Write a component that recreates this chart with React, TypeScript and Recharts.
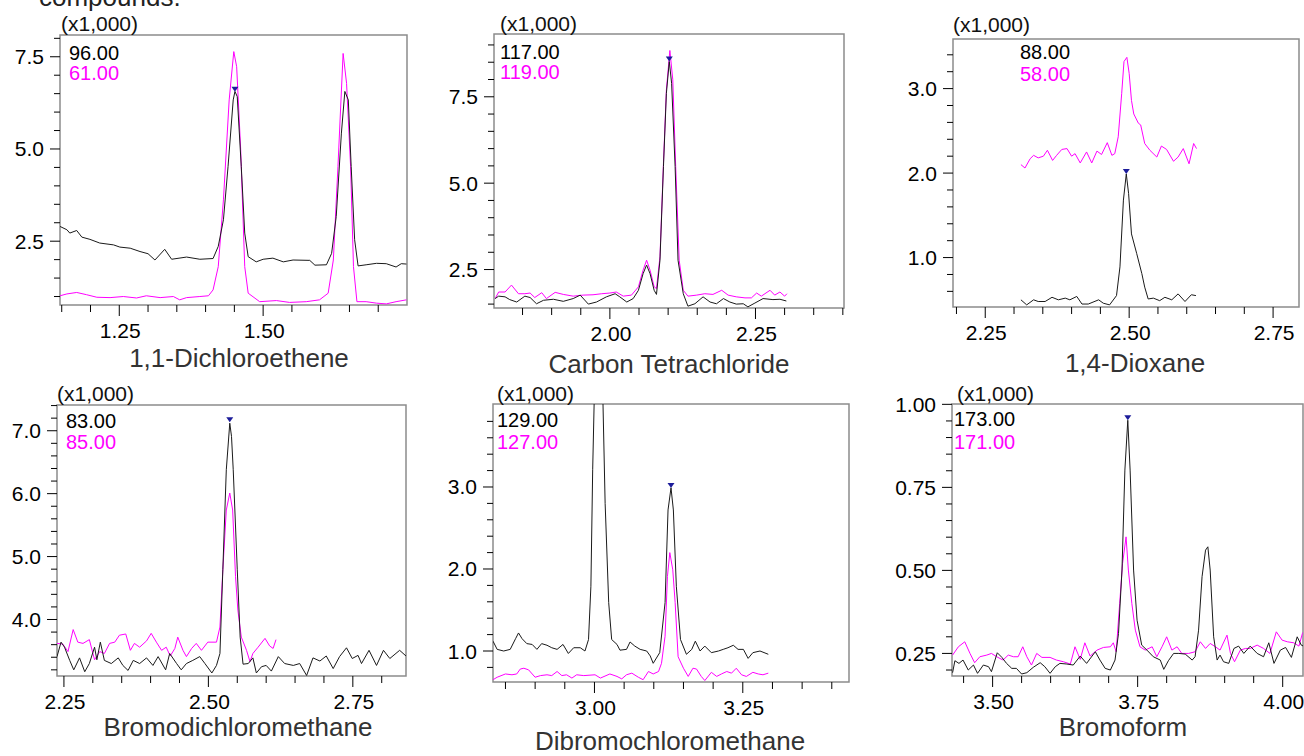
import React from 'react';
import { LineChart, Line, XAxis, YAxis, ReferenceArea, ReferenceDot } from 'recharts';

type Pt = [number, number];

const FONT = '"Liberation Sans", Arial, sans-serif';
const BLACK = '#1a1a1a';
const MAGENTA = '#ff00ff';

// ---- 1,1-Dichloroethene (96 / 61)
const dceTicksX = [1.15, 1.2, 1.25, 1.3, 1.35, 1.4, 1.45, 1.5, 1.55, 1.6, 1.65, 1.7];
const dceMajorX = [1.25, 1.5];
const dceTicksY = [1, 1.5, 2, 2.5, 3, 3.5, 4, 4.5, 5, 5.5, 6, 6.5, 7, 7.5, 8];
const dceMajorY = [2.5, 5, 7.5];
const dce96: Pt[] = [
  [1.147, 2.9], [1.159, 2.81], [1.164, 2.72], [1.176, 2.79], [1.185, 2.61], [1.199, 2.55], [1.216, 2.45],
  [1.24, 2.4], [1.251, 2.34], [1.269, 2.31], [1.286, 2.22], [1.3, 2.16], [1.312, 1.99], [1.329, 2.28],
  [1.341, 2.01], [1.367, 2.07], [1.39, 2.01], [1.413, 2.03], [1.422, 2.36], [1.431, 3.08], [1.439, 4.52],
  [1.448, 6.33], [1.451, 6.56], [1.455, 6.42], [1.462, 4.52], [1.468, 2.72], [1.474, 2.08], [1.488, 1.94],
  [1.5, 2.01], [1.517, 2.04], [1.535, 1.94], [1.552, 1.99], [1.581, 1.98], [1.59, 1.85], [1.61, 1.86],
  [1.619, 2.17], [1.627, 3.17], [1.636, 5.43], [1.642, 6.56], [1.648, 6.33], [1.653, 4.52], [1.659, 2.54],
  [1.665, 1.83], [1.679, 1.86], [1.697, 1.9], [1.714, 1.89], [1.731, 1.8], [1.74, 1.89], [1.749, 1.88],
];
const dce61: Pt[] = [
  [1.147, 1.02], [1.159, 1.07], [1.176, 1.11], [1.193, 1.05], [1.211, 0.98], [1.234, 0.97], [1.257, 1.0],
  [1.28, 0.96], [1.297, 1.02], [1.321, 0.97], [1.344, 1.0], [1.355, 0.91], [1.367, 0.97], [1.39, 1.0],
  [1.405, 1.02], [1.413, 1.18], [1.422, 1.81], [1.431, 3.62], [1.441, 6.33], [1.449, 7.64], [1.454, 7.23],
  [1.461, 4.98], [1.468, 1.81], [1.474, 1.09], [1.494, 0.86], [1.523, 0.89], [1.546, 0.84], [1.575, 0.86],
  [1.598, 0.91], [1.613, 1.09], [1.622, 1.99], [1.63, 4.52], [1.639, 7.59], [1.645, 6.78], [1.652, 4.52],
  [1.657, 1.81], [1.663, 0.86], [1.679, 0.86], [1.697, 0.82], [1.714, 0.8], [1.731, 0.86], [1.749, 0.91],
];

// ---- Carbon Tetrachloride (117 / 119)
const cclTicksX = [1.85, 1.9, 1.95, 2.0, 2.05, 2.1, 2.15, 2.2, 2.25, 2.3, 2.35, 2.4];
const cclMajorX = [2.0, 2.25];
const cclTicksY = [1.5, 2, 2.5, 3, 3.5, 4, 4.5, 5, 5.5, 6, 6.5, 7, 7.5, 8, 8.5, 9];
const cclMajorY = [2.5, 5, 7.5];
const ccl117: Pt[] = [
  [1.803, 1.66], [1.809, 1.73], [1.82, 1.71], [1.828, 1.63], [1.84, 1.56], [1.854, 1.73], [1.863, 1.69],
  [1.874, 1.51], [1.886, 1.61], [1.903, 1.64], [1.92, 1.58], [1.937, 1.66], [1.949, 1.76], [1.963, 1.5],
  [1.977, 1.56], [1.994, 1.71], [2.009, 1.8], [2.017, 1.71], [2.029, 1.56], [2.04, 1.66], [2.049, 1.9],
  [2.057, 2.38], [2.063, 2.63], [2.069, 2.38], [2.076, 1.9], [2.08, 1.78], [2.086, 2.77], [2.092, 5.48],
  [2.097, 7.6], [2.102, 8.52], [2.106, 7.89], [2.112, 5.48], [2.117, 2.77], [2.126, 1.8], [2.134, 1.44],
  [2.146, 1.51], [2.16, 1.71], [2.172, 1.56], [2.183, 1.51], [2.195, 1.66], [2.206, 1.56], [2.217, 1.5],
  [2.229, 1.51], [2.237, 1.42], [2.249, 1.53], [2.263, 1.66], [2.28, 1.63], [2.292, 1.64], [2.303, 1.59],
];
const ccl119: Pt[] = [
  [1.803, 1.66], [1.809, 1.85], [1.82, 1.85], [1.831, 2.05], [1.843, 1.8], [1.854, 1.8], [1.863, 1.82],
  [1.871, 1.69], [1.883, 1.83], [1.891, 1.66], [1.906, 1.84], [1.92, 1.78], [1.937, 1.73], [1.954, 1.76],
  [1.971, 1.77], [1.986, 1.8], [2.0, 1.82], [2.011, 1.85], [2.023, 1.73], [2.037, 1.76], [2.049, 2.0],
  [2.057, 2.48], [2.063, 2.77], [2.069, 2.48], [2.076, 2.0], [2.08, 1.95], [2.086, 2.87], [2.092, 5.57],
  [2.097, 7.7], [2.103, 8.84], [2.108, 7.99], [2.113, 5.48], [2.119, 2.77], [2.126, 1.9], [2.134, 1.73],
  [2.149, 1.76], [2.163, 1.8], [2.177, 1.78], [2.192, 1.9], [2.203, 1.76], [2.217, 1.71], [2.232, 1.68],
  [2.243, 1.68], [2.252, 1.82], [2.26, 1.73], [2.275, 1.9], [2.283, 1.76], [2.292, 1.85], [2.3, 1.73],
  [2.304, 1.8],
];

// ---- 1,4-Dioxane (88 / 58)
const dioTicksX = [2.2, 2.25, 2.3, 2.35, 2.4, 2.45, 2.5, 2.55, 2.6, 2.65, 2.7, 2.75];
const dioMajorX = [2.25, 2.5, 2.75];
const dioTicksY = [0.6, 0.8, 1.0, 1.2, 1.4, 1.6, 1.8, 2.0, 2.2, 2.4, 2.6, 2.8, 3.0, 3.2, 3.4];
const dioMajorY = [1, 2, 3];
const dio88: Pt[] = [
  [2.312, 0.5], [2.322, 0.44], [2.334, 0.5], [2.342, 0.48], [2.354, 0.48], [2.366, 0.53], [2.377, 0.5],
  [2.389, 0.52], [2.397, 0.5], [2.409, 0.54], [2.418, 0.45], [2.429, 0.45], [2.447, 0.5], [2.455, 0.46],
  [2.466, 0.44], [2.478, 0.55], [2.484, 0.89], [2.49, 1.68], [2.495, 1.99], [2.499, 1.76], [2.504, 1.28],
  [2.513, 1.05], [2.522, 0.81], [2.527, 0.65], [2.533, 0.51], [2.542, 0.52], [2.553, 0.49], [2.562, 0.53],
  [2.574, 0.5], [2.585, 0.57], [2.597, 0.48], [2.608, 0.56], [2.616, 0.55],
];
const dio58: Pt[] = [
  [2.312, 2.1], [2.319, 2.06], [2.328, 2.17], [2.334, 2.21], [2.342, 2.18], [2.351, 2.2], [2.358, 2.27],
  [2.367, 2.15], [2.374, 2.21], [2.383, 2.28], [2.392, 2.29], [2.4, 2.2], [2.406, 2.23], [2.415, 2.12],
  [2.426, 2.25], [2.435, 2.12], [2.444, 2.26], [2.452, 2.22], [2.462, 2.36], [2.47, 2.21], [2.475, 2.23],
  [2.481, 2.43], [2.487, 2.94], [2.491, 3.32], [2.496, 3.37], [2.5, 3.18], [2.504, 2.86], [2.508, 2.7],
  [2.516, 2.59], [2.52, 2.57], [2.527, 2.35], [2.536, 2.27], [2.548, 2.19], [2.556, 2.32], [2.565, 2.28],
  [2.577, 2.14], [2.585, 2.19], [2.594, 2.29], [2.604, 2.11], [2.612, 2.35], [2.617, 2.29],
];

// ---- Bromodichloromethane (83 / 85)
const bdcTicksX = [2.25, 2.3, 2.35, 2.4, 2.45, 2.5, 2.55, 2.6, 2.65, 2.7, 2.75, 2.8];
const bdcMajorX = [2.25, 2.5, 2.75];
const bdcTicksY = [
  3.2, 3.4, 3.6, 3.8, 4.0, 4.2, 4.4, 4.6, 4.8, 5.0, 5.2, 5.4, 5.6, 5.8, 6.0, 6.2, 6.4, 6.6, 6.8, 7.0, 7.2, 7.4,
];
const bdcMajorY = [4, 5, 6, 7];
const bdc83: Pt[] = [
  [2.238, 3.41], [2.245, 3.64], [2.251, 3.56], [2.26, 3.35], [2.267, 3.2], [2.277, 3.39], [2.286, 3.17],
  [2.294, 3.3], [2.303, 3.56], [2.307, 3.36], [2.313, 3.64], [2.32, 3.35], [2.332, 3.3], [2.344, 3.39],
  [2.352, 3.27], [2.361, 3.19], [2.37, 3.35], [2.381, 3.3], [2.393, 3.39], [2.404, 3.27], [2.413, 3.41],
  [2.426, 3.2], [2.433, 3.46], [2.445, 3.3], [2.453, 3.2], [2.462, 3.3], [2.473, 3.35], [2.485, 3.41],
  [2.494, 3.3], [2.506, 3.15], [2.514, 3.27], [2.52, 3.46], [2.525, 4.79], [2.531, 6.38], [2.537, 7.12],
  [2.54, 6.91], [2.543, 6.38], [2.55, 4.79], [2.555, 3.72], [2.56, 3.29], [2.569, 3.3], [2.577, 3.39],
  [2.583, 3.15], [2.592, 3.25], [2.6, 3.27], [2.609, 3.18], [2.621, 3.41], [2.632, 3.3], [2.647, 3.27],
  [2.658, 3.3], [2.67, 3.11], [2.681, 3.39], [2.693, 3.34], [2.704, 3.42], [2.716, 3.22], [2.727, 3.41],
  [2.739, 3.55], [2.749, 3.38], [2.759, 3.43], [2.765, 3.3], [2.778, 3.51], [2.791, 3.27], [2.803, 3.51],
  [2.814, 3.38], [2.831, 3.51], [2.842, 3.42],
];
const bdc85: Pt[] = [
  [2.238, 3.62], [2.248, 3.61], [2.257, 3.49], [2.266, 3.84], [2.274, 3.64], [2.283, 3.62], [2.294, 3.68],
  [2.303, 3.36], [2.312, 3.49], [2.32, 3.46], [2.329, 3.62], [2.338, 3.64], [2.346, 3.75], [2.357, 3.77],
  [2.365, 3.51], [2.372, 3.62], [2.381, 3.56], [2.393, 3.66], [2.401, 3.78], [2.41, 3.64], [2.419, 3.51],
  [2.427, 3.56], [2.434, 3.42], [2.442, 3.54], [2.447, 3.72], [2.456, 3.51], [2.462, 3.41], [2.471, 3.54],
  [2.479, 3.62], [2.488, 3.51], [2.499, 3.64], [2.514, 3.64], [2.52, 3.88], [2.525, 4.79], [2.531, 5.74],
  [2.537, 6.01], [2.542, 5.74], [2.547, 4.68], [2.551, 4.15], [2.557, 3.72], [2.566, 3.51], [2.572, 3.33],
  [2.577, 3.46], [2.586, 3.56], [2.598, 3.7], [2.606, 3.58], [2.612, 3.54], [2.617, 3.68],
];

// ---- Dibromochloromethane (129 / 127)
const dbcTicksX = [2.85, 2.9, 2.95, 3.0, 3.05, 3.1, 3.15, 3.2, 3.25, 3.3, 3.35, 3.4];
const dbcMajorX = [3.0, 3.25];
const dbcTicksY = [0.8, 1.0, 1.2, 1.4, 1.6, 1.8, 2.0, 2.2, 2.4, 2.6, 2.8, 3.0, 3.2, 3.4, 3.6, 3.8];
const dbcMajorY = [1, 2, 3];
const dbc129: Pt[] = [
  [2.829, 1.12], [2.836, 1.02], [2.847, 1.0], [2.858, 1.02], [2.867, 1.15], [2.872, 1.22], [2.878, 1.15],
  [2.886, 1.09], [2.895, 1.08], [2.903, 1.02], [2.911, 1.09], [2.92, 1.07], [2.928, 1.04], [2.937, 1.02],
  [2.947, 1.08], [2.956, 0.97], [2.965, 1.04], [2.976, 1.04], [2.984, 1.0], [2.99, 1.14], [2.994, 1.79],
  [2.997, 3.21], [3.007, 6.5], [3.018, 2.8], [3.024, 1.59], [3.029, 1.14], [3.038, 1.08], [3.043, 1.01],
  [3.054, 1.02], [3.06, 1.11], [3.068, 1.06], [3.077, 1.02], [3.088, 1.0], [3.094, 0.94], [3.099, 0.85],
  [3.11, 0.98], [3.119, 1.59], [3.124, 2.72], [3.129, 2.99], [3.133, 2.72], [3.138, 1.79], [3.145, 1.14],
  [3.155, 0.96], [3.164, 1.02], [3.17, 1.12], [3.178, 1.0], [3.186, 1.06], [3.197, 0.98], [3.209, 1.0],
  [3.217, 1.02], [3.225, 1.04], [3.234, 1.07], [3.242, 1.02], [3.251, 1.02], [3.259, 0.91], [3.267, 0.98],
  [3.279, 1.0], [3.293, 0.96],
];
const dbc127: Pt[] = [
  [2.829, 0.65], [2.836, 0.68], [2.85, 0.72], [2.861, 0.71], [2.869, 0.72], [2.875, 0.78], [2.881, 0.79],
  [2.889, 0.77], [2.9, 0.68], [2.909, 0.7], [2.92, 0.71], [2.928, 0.7], [2.937, 0.75], [2.945, 0.7],
  [2.953, 0.71], [2.962, 0.67], [2.97, 0.71], [2.982, 0.7], [3.001, 0.71], [3.01, 0.67], [3.026, 0.72],
  [3.038, 0.69], [3.046, 0.66], [3.054, 0.71], [3.063, 0.73], [3.074, 0.68], [3.082, 0.65], [3.091, 0.75],
  [3.099, 0.72], [3.108, 0.75], [3.113, 0.85], [3.119, 1.18], [3.123, 1.91], [3.127, 2.2], [3.132, 1.99],
  [3.136, 1.59], [3.141, 0.93], [3.15, 0.79], [3.158, 0.69], [3.166, 0.79], [3.172, 0.78], [3.18, 0.69],
  [3.186, 0.64], [3.197, 0.74], [3.206, 0.69], [3.214, 0.72], [3.223, 0.75], [3.231, 0.73], [3.239, 0.79],
  [3.248, 0.71], [3.256, 0.69], [3.267, 0.74], [3.276, 0.72], [3.284, 0.71], [3.293, 0.73],
];

// ---- Bromoform (173 / 171)
const brfTicksX = [3.45, 3.5, 3.55, 3.6, 3.65, 3.7, 3.75, 3.8, 3.85, 3.9, 3.95, 4.0];
const brfMajorX = [3.5, 3.75, 4.0];
const brfTicksY = [
  0.2, 0.25, 0.3, 0.35, 0.4, 0.45, 0.5, 0.55, 0.6, 0.65, 0.7, 0.75, 0.8, 0.85, 0.9, 0.95, 1.0,
];
const brfMajorY = [0.25, 0.5, 0.75, 1.0];
const brf173: Pt[] = [
  [3.431, 0.192], [3.435, 0.228], [3.442, 0.22], [3.449, 0.23], [3.458, 0.2], [3.467, 0.215], [3.474, 0.19],
  [3.484, 0.215], [3.493, 0.21], [3.498, 0.195], [3.508, 0.252], [3.516, 0.238], [3.524, 0.22], [3.533, 0.205],
  [3.541, 0.205], [3.55, 0.188], [3.559, 0.192], [3.57, 0.208], [3.582, 0.222], [3.59, 0.21], [3.599, 0.19],
  [3.608, 0.21], [3.616, 0.22], [3.628, 0.218], [3.639, 0.215], [3.651, 0.242], [3.662, 0.22], [3.677, 0.255],
  [3.685, 0.23], [3.694, 0.205], [3.703, 0.2], [3.711, 0.23], [3.717, 0.31], [3.723, 0.501], [3.728, 0.802],
  [3.733, 0.952], [3.737, 0.802], [3.743, 0.501], [3.749, 0.35], [3.757, 0.275], [3.766, 0.26], [3.777, 0.24],
  [3.789, 0.23], [3.795, 0.202], [3.803, 0.228], [3.812, 0.25], [3.821, 0.25], [3.832, 0.248], [3.844, 0.23],
  [3.849, 0.24], [3.855, 0.32], [3.861, 0.481], [3.867, 0.561], [3.871, 0.571], [3.875, 0.501], [3.881, 0.3],
  [3.887, 0.23], [3.892, 0.245], [3.898, 0.225], [3.907, 0.22], [3.916, 0.265], [3.924, 0.272], [3.933, 0.25],
  [3.944, 0.272], [3.956, 0.25], [3.967, 0.24], [3.976, 0.282], [3.985, 0.22], [3.996, 0.26], [4.005, 0.268],
  [4.015, 0.238], [4.025, 0.3], [4.032, 0.275], [4.036, 0.272],
];
const brf171: Pt[] = [
  [3.431, 0.245], [3.441, 0.27], [3.452, 0.285], [3.461, 0.25], [3.469, 0.222], [3.478, 0.24], [3.49, 0.245],
  [3.498, 0.25], [3.507, 0.24], [3.518, 0.23], [3.527, 0.245], [3.536, 0.24], [3.544, 0.24], [3.552, 0.27],
  [3.559, 0.24], [3.567, 0.215], [3.576, 0.25], [3.585, 0.238], [3.599, 0.238], [3.61, 0.23], [3.622, 0.225],
  [3.634, 0.218], [3.642, 0.27], [3.651, 0.232], [3.659, 0.282], [3.668, 0.242], [3.68, 0.26], [3.691, 0.268],
  [3.703, 0.27], [3.708, 0.282], [3.713, 0.255], [3.719, 0.4], [3.724, 0.521], [3.73, 0.601], [3.734, 0.501],
  [3.74, 0.4], [3.746, 0.32], [3.754, 0.27], [3.763, 0.26], [3.775, 0.27], [3.783, 0.24], [3.792, 0.27],
  [3.8, 0.3], [3.809, 0.26], [3.818, 0.27], [3.826, 0.25], [3.838, 0.25], [3.849, 0.255], [3.858, 0.285],
  [3.867, 0.265], [3.875, 0.28], [3.884, 0.27], [3.892, 0.26], [3.904, 0.305], [3.91, 0.25], [3.917, 0.225],
  [3.927, 0.26], [3.936, 0.265], [3.944, 0.265], [3.956, 0.275], [3.967, 0.265], [3.978, 0.25], [3.989, 0.315],
  [3.999, 0.29], [4.008, 0.285], [4.019, 0.282], [4.028, 0.272], [4.034, 0.31], [4.036, 0.315],
];

type PanelDef = {
  title: string;
  ions: [string, string];
  target: Pt[];
  qualifier: Pt[];
  peak: Pt;
  xDomain: [number, number];
  yDomain: [number, number];
  xTicks: number[];
  xMajor: number[];
  yTicks: number[];
  yMajor: number[];
  yDigits: number;
  box: { left: number; top: number; width: number; height: number };
  ionX: number;
  ionY: [number, number];
  scaleX: number;
  scaleY: number;
  titleX: number;
  titleY: number;
};

const panels: PanelDef[] = [
  {
    title: '1,1-Dichloroethene', ions: ['96.00', '61.00'], target: dce96, qualifier: dce61, peak: [1.451, 6.58],
    xDomain: [1.147, 1.75], yDomain: [0.77, 8.09], xTicks: dceTicksX, xMajor: dceMajorX,
    yTicks: dceTicksY, yMajor: dceMajorY, yDigits: 1,
    box: { left: 60, top: 35, width: 347, height: 270 },
    ionX: 69, ionY: [60, 80], scaleX: 61, scaleY: 31, titleX: 239, titleY: 367,
  },
  {
    title: 'Carbon Tetrachloride', ions: ['117.00', '119.00'], target: ccl117, qualifier: ccl119, peak: [2.102, 8.55],
    xDomain: [1.801, 2.402], yDomain: [1.387, 9.317], xTicks: cclTicksX, xMajor: cclMajorX,
    yTicks: cclTicksY, yMajor: cclMajorY, yDigits: 1,
    box: { left: 494, top: 34, width: 350, height: 274 },
    ionX: 500, ionY: [59, 79], scaleX: 500, scaleY: 31, titleX: 669, titleY: 373,
  },
  {
    title: '1,4-Dioxane', ions: ['88.00', '58.00'], target: dio88, qualifier: dio58, peak: [2.495, 2.0],
    xDomain: [2.194, 2.795], yDomain: [0.415, 3.587], xTicks: dioTicksX, xMajor: dioMajorX,
    yTicks: dioTicksY, yMajor: dioMajorY, yDigits: 1,
    box: { left: 953, top: 39, width: 346, height: 268 },
    ionX: 1020, ionY: [59, 81], scaleX: 953, scaleY: 32, titleX: 1135, titleY: 372,
  },
  {
    title: 'Bromodichloromethane', ions: ['83.00', '85.00'], target: bdc83, qualifier: bdc85, peak: [2.537, 7.15],
    xDomain: [2.238, 2.842], yDomain: [3.102, 7.409], xTicks: bdcTicksX, xMajor: bdcMajorX,
    yTicks: bdcTicksY, yMajor: bdcMajorY, yDigits: 1,
    box: { left: 57, top: 405, width: 349, height: 271 },
    ionX: 66, ionY: [428, 449], scaleX: 57, scaleY: 401, titleX: 238, titleY: 736,
  },
  {
    title: 'Dibromochloromethane', ions: ['129.00', '127.00'], target: dbc129, qualifier: dbc127, peak: [3.129, 3.0],
    xDomain: [2.829, 3.429], yDomain: [0.622, 4.012], xTicks: dbcTicksX, xMajor: dbcMajorX,
    yTicks: dbcTicksY, yMajor: dbcMajorY, yDigits: 1,
    box: { left: 493, top: 404, width: 356, height: 278 },
    ionX: 497, ionY: [427, 449], scaleX: 497, scaleY: 401, titleX: 670, titleY: 750,
  },
  {
    title: 'Bromoform', ions: ['173.00', '171.00'], target: brf173, qualifier: brf171, peak: [3.733, 0.955],
    xDomain: [3.43, 4.035], yDomain: [0.182, 1.001], xTicks: brfTicksX, xMajor: brfMajorX,
    yTicks: brfTicksY, yMajor: brfMajorY, yDigits: 2,
    box: { left: 952, top: 404, width: 351, height: 272 },
    ionX: 954, ionY: [426, 449], scaleX: 957, scaleY: 401, titleX: 1123, titleY: 736,
  },
];

const rows = (pts: Pt[]) => pts.map(([t, v]) => ({ t, v }));
const isIn = (list: number[], v: number) => list.some((m) => Math.abs(m - v) < 1e-6);

const AXIS_W = 60;
const AXIS_H = 75;
const PAD_TOP = 40;
const PAD_RIGHT = 10;

function Panel({ p }: { p: PanelDef }) {
  const { box } = p;
  const xTick = (props: any) => {
    const { x, y, payload } = props;
    const major = isIn(p.xMajor, payload.value);
    return (
      <g>
        <line x1={x} x2={x} y1={y} y2={y + (major ? 11 : 7)} stroke="#000" strokeWidth={1} />
        {major && (
          <text x={x + 1} y={y + 33} textAnchor="middle" fontSize={21} fontFamily={FONT} fill="#000">
            {payload.value.toFixed(2)}
          </text>
        )}
      </g>
    );
  };
  const yTick = (props: any) => {
    const { x, y, payload } = props;
    const major = isIn(p.yMajor, payload.value);
    return (
      <g>
        <line x1={x - (major ? 10 : 6)} x2={x} y1={y} y2={y} stroke="#000" strokeWidth={1} />
        {major && (
          <text x={x - 16} y={y + 7.5} textAnchor="end" fontSize={21} fontFamily={FONT} fill="#000">
            {payload.value.toFixed(p.yDigits)}
          </text>
        )}
      </g>
    );
  };
  const marker = (props: any) => {
    const { cx, cy } = props;
    return <path d={`M${cx - 3.5},${cy - 4} L${cx + 3.5},${cy - 4} L${cx},${cy + 1} Z`} fill="#1c1c9a" />;
  };
  return (
    <div
      style={{
        position: 'absolute',
        left: box.left - AXIS_W,
        top: box.top - PAD_TOP,
      }}
    >
      <LineChart
        width={box.width + AXIS_W + PAD_RIGHT}
        height={box.height + PAD_TOP + AXIS_H}
        margin={{ top: PAD_TOP, right: PAD_RIGHT, bottom: 0, left: 0 }}
      >
        <XAxis
          type="number"
          dataKey="t"
          domain={p.xDomain}
          allowDataOverflow
          ticks={p.xTicks}
          interval={0}
          height={AXIS_H}
          tickSize={0}
          tickMargin={0}
          axisLine={false}
          tickLine={false}
          tick={xTick}
        />
        <YAxis
          type="number"
          dataKey="v"
          domain={p.yDomain}
          allowDataOverflow
          ticks={p.yTicks}
          interval={0}
          width={AXIS_W}
          tickSize={0}
          tickMargin={0}
          axisLine={false}
          tickLine={false}
          tick={yTick}
        />
        <ReferenceArea
          x1={p.xDomain[0]}
          x2={p.xDomain[1]}
          y1={p.yDomain[0]}
          y2={p.yDomain[1]}
          fill="#ffffff"
          fillOpacity={0}
          stroke="#8c8c8c"
          strokeWidth={1.5}
        />
        <Line
          data={rows(p.qualifier)}
          dataKey="v"
          type="linear"
          stroke={MAGENTA}
          strokeWidth={1}
          dot={false}
          isAnimationActive={false}
        />
        <Line
          data={rows(p.target)}
          dataKey="v"
          type="linear"
          stroke={BLACK}
          strokeWidth={1}
          dot={false}
          isAnimationActive={false}
        />
        <ReferenceDot x={p.peak[0]} y={p.peak[1]} r={3} shape={marker} />
      </LineChart>
    </div>
  );
}

export default function App() {
  return (
    <div
      style={{
        position: 'absolute',
        left: 0,
        top: 0,
        width: 1304,
        height: 756,
        overflow: 'hidden',
        background: '#fff',
      }}
    >
      {panels.map((p) => (
        <Panel key={p.title} p={p} />
      ))}
      <svg
        width={1304}
        height={756}
        style={{ position: 'absolute', left: 0, top: 0, pointerEvents: 'none' }}
        fontFamily={FONT}
      >
        <text x={39} y={6} fontSize={26} fill="#222">
          compounds.
        </text>
        {panels.map((p) => (
          <g key={p.title}>
            <text x={p.scaleX} y={p.scaleY} fontSize={21} fill="#111">
              (x1,000)
            </text>
            <text x={p.ionX} y={p.ionY[0]} fontSize={20} fill="#000">
              {p.ions[0]}
            </text>
            <text x={p.ionX} y={p.ionY[1]} fontSize={20} fill={MAGENTA}>
              {p.ions[1]}
            </text>
            <text x={p.titleX} y={p.titleY} fontSize={26} fill="#333" textAnchor="middle">
              {p.title}
            </text>
          </g>
        ))}
      </svg>
    </div>
  );
}
